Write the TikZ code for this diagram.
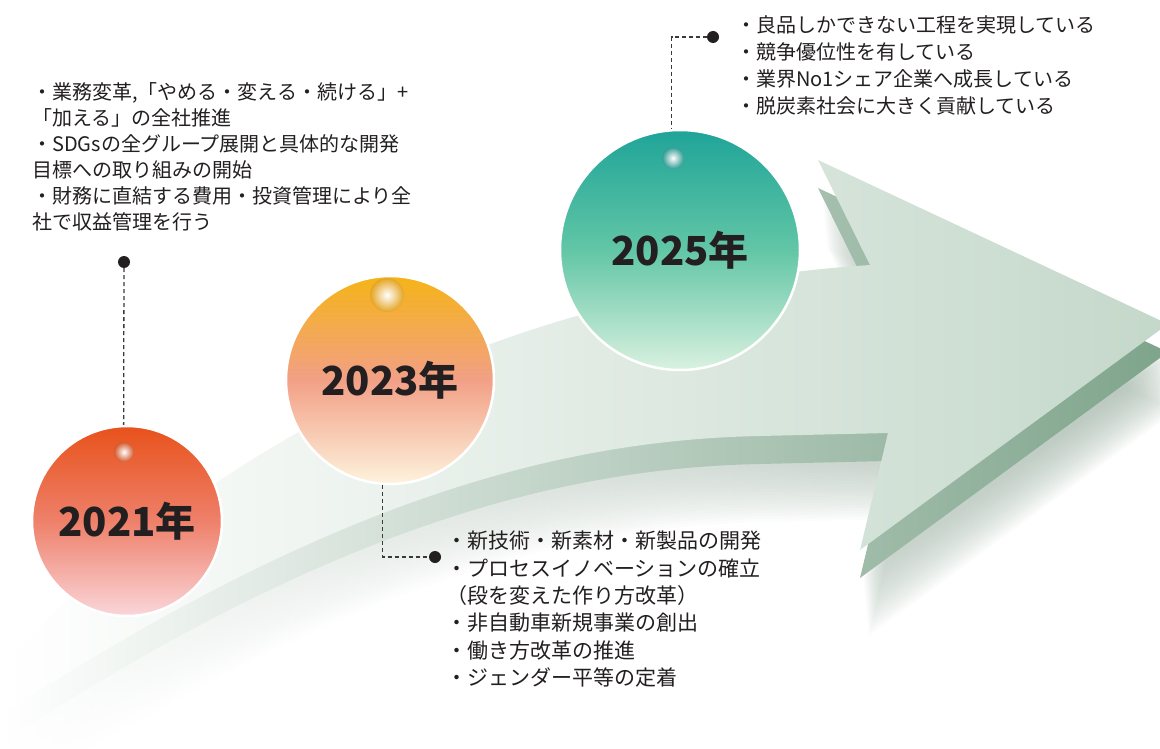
\documentclass[tikz,border=0pt]{standalone}
\usepackage{fontspec}
\setmainfont{Noto Sans CJK JP}
\usepackage{tikz}
\usepackage[dvipsnames]{xcolor}
\definecolor{ink}{HTML}{231F20}
\definecolor{dashgray}{HTML}{3A3A3A}
\definecolor{arrowtop}{HTML}{C4D8CA}
\definecolor{arrowmid}{HTML}{DCE6DE}
\definecolor{arrowside}{HTML}{7EA48B}
\definecolor{sidemid}{HTML}{A3BAAB}
\definecolor{shadowgray}{HTML}{8FA697}
\definecolor{redtop}{HTML}{E8521B}
\definecolor{redmid}{HTML}{EE806A}
\definecolor{redbot}{HTML}{FAD6DA}
\definecolor{ambertop}{HTML}{F5B417}
\definecolor{ambermid}{HTML}{F2A086}
\definecolor{amberbot}{HTML}{FDF3DD}
\definecolor{tealtop}{HTML}{1FA498}
\definecolor{tealmid}{HTML}{62C6A6}
\definecolor{tealbot}{HTML}{DAF1E0}
\newcommand\arrowoutline{(0,668) .. controls (200,450) and (500,290) .. (870,265) -- (818,160) -- (1168,324) -- (860,550) -- (888,433) -- (760,436) .. controls (560,440) and (330,500) .. (0,716) -- cycle}

\begin{document}
\begin{tikzpicture}
  [x=1pt,y=-1pt,
   sphere/.style={circle,draw=white,line width=2.5,inner sep=0,text=ink,
     font=\fontsize{40}{40}\selectfont\bfseries},
   dot/.style={circle,fill=ink,inner sep=0,minimum size=12},
   link/.style={dashgray,line width=1.3,dash pattern=on 4pt off 3pt},
   note/.style={anchor=north west,align=left,inner sep=0,text=ink}]
  \useasboundingbox (0,0) rectangle (1160,749);
  \clip (0,0) rectangle (1160,749);

  \foreach \s in {32,35,...,86}
    \shade[left color=white,right color=shadowgray,opacity=0.05,shift={(0.1*\s,\s)}] \arrowoutline;
  \shade[left color=white,middle color=sidemid,right color=arrowside,shift={(0,28)}] \arrowoutline;
  \shade[left color=white,middle color=arrowmid,right color=arrowtop] \arrowoutline;

  \node (y21) at (127,521) [sphere,minimum size=190,top color=redtop,bottom color=redbot,middle color=redmid] {2021年};
  \node (y23) at (390,380) [sphere,minimum size=208,top color=ambertop,bottom color=amberbot,middle color=ambermid] {2023年};
  \node (y25) at (680,250) [sphere,minimum size=240,top color=tealtop,bottom color=tealbot,middle color=tealmid] {2025年};
  \shade[inner color=white,outer color=redtop!80!gray] (124,452) circle (10);
  \shade[inner color=white,outer color=ambertop!70!brown] (387,295) circle (17);
  \shade[inner color=white,outer color=tealtop!80!gray] (673,158) circle (11);

  \node (d21) at (124,262) [dot] {};
  \node (d23) at (435,557) [dot] {};
  \node (d25) at (713,37)  [dot] {};

  \draw[link] (d21) -- (y21.92);
  \draw[link] (y23.266) |- (d23);
  \draw[link] (d25) -| (y25.94);

  \node (t21) at (32,82) [note,font=\fontsize{20}{26}\selectfont]
    {・業務変革,「やめる・変える・続ける」+\\「加える」の全社推進\\・SDGsの全グループ展開と具体的な開発\\目標への取り組みの開始\\・財務に直結する費用・投資管理により全\\社で収益管理を行う};
  \node (t23) at (446,531) [note,font=\fontsize{21}{27.3}\selectfont]
    {・新技術・新素材・新製品の開発\\・プロセスイノベーションの確立\\（段を変えた作り方改革）\\・非自動車新規事業の創出\\・働き方改革の推進\\・ジェンダー平等の定着};
  \node (t25) at (736,15) [note,font=\fontsize{20}{27.3}\selectfont]
    {・良品しかできない工程を実現している\\・競争優位性を有している\\・業界No1シェア企業へ成長している\\・脱炭素社会に大きく貢献している};
\end{tikzpicture}
\end{document}
